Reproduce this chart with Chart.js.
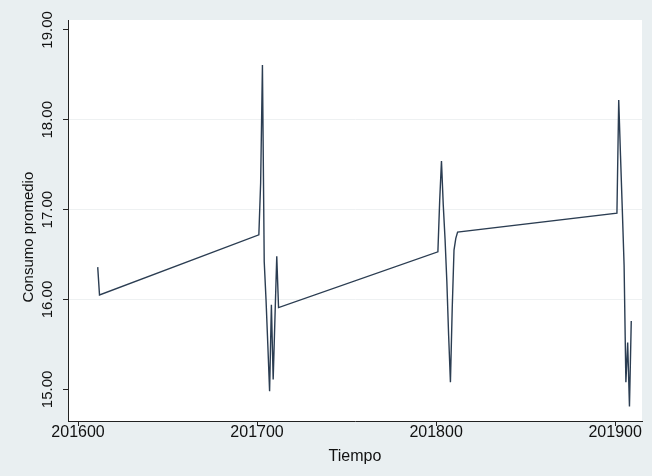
<!DOCTYPE html>
<html>
<head>
<meta charset="utf-8">
<script src="https://cdn.jsdelivr.net/npm/chart.js@4/dist/chart.umd.min.js"></script>
<style>
  html, body { margin: 0; padding: 0; background: #e9eff1; }
  canvas { display: block; }
</style>
</head>
<body>
<canvas id="consumoChart" width="652" height="476"></canvas>
<script>
// --- DATOS ---
const periodos = [
    201611, 201612,
    201701, 201702, 201703, 201704, 201705, 201706, 201707, 201708, 201709, 201710, 201711, 201712,
    201801, 201802, 201803, 201804, 201805, 201806, 201807, 201808, 201809, 201810, 201811, 201812,
    201901, 201902, 201903, 201904, 201905, 201906, 201907, 201908, 201909
];
const consumo = [
    16.36, 16.05,
    16.72, 17.30, 18.61, 16.42, 16.00, 15.50, 14.98, 15.94, 15.11, 15.80, 16.48, 15.91,
    16.53, 17.10, 17.54, 17.05, 16.67, 16.20, 15.60, 15.08, 15.90, 16.55, 16.68, 16.75,
    16.96, 18.22, 17.60, 17.00, 16.38, 15.08, 15.52, 14.81, 15.76
];
const xTicks = [201600, 201700, 201800, 201900];
const yTicks = [15, 16, 17, 18, 19];

const FONT = "'Liberation Sans', Arial, sans-serif";

// fondo gris azulado + área del gráfico blanca (estilo Stata)
const fondoPlugin = {
    id: 'fondo',
    beforeDraw(chart) {
        const { ctx, chartArea } = chart;
        ctx.save();
        ctx.fillStyle = '#e9eff1';
        ctx.fillRect(0, 0, chart.width, chart.height);
        ctx.fillStyle = '#ffffff';
        ctx.fillRect(chartArea.left, chartArea.top, chartArea.right - chartArea.left, chartArea.bottom - chartArea.top);
        ctx.restore();
    }
};

const ctx = document.getElementById('consumoChart').getContext('2d');
new Chart(ctx, {
    type: 'line',
    data: {
        datasets: [{
            data: periodos.map((p, i) => ({ x: p, y: consumo[i] })),
            borderColor: '#2b3d52',
            borderWidth: 1.4,
            pointRadius: 0,
            tension: 0,
            fill: false
        }]
    },
    options: {
        responsive: false,
        animation: false,
        layout: { padding: { top: 20, right: 10, left: 0, bottom: 0 } },
        plugins: {
            legend: { display: false },
            tooltip: { enabled: false }
        },
        scales: {
            x: {
                type: 'linear',
                min: 201594.4,
                max: 201915,
                afterBuildTicks: s => { s.ticks = xTicks.map(v => ({ value: v })); },
                afterFit: s => { s.height = 55; },
                border: { color: '#222', width: 1 },
                grid: { drawOnChartArea: false, tickColor: '#222', tickLength: 5 },
                ticks: {
                    color: '#111',
                    font: { family: FONT, size: 16 },
                    padding: -3,
                    maxRotation: 0,
                    callback: v => String(v)
                },
                title: {
                    display: true,
                    text: 'Tiempo',
                    color: '#111',
                    font: { family: FONT, size: 16 },
                    padding: { top: 0, bottom: 10 }
                }
            },
            y: {
                min: 14.648,
                max: 19.11,
                afterBuildTicks: s => { s.ticks = yTicks.map(v => ({ value: v })); },
                afterFit: s => { s.width = 68; },
                border: { color: '#222', width: 1 },
                grid: {
                    color: c => (c.tick && (c.tick.value === 15 || c.tick.value === 19)) ? 'rgba(0,0,0,0)' : '#eef1f2',
                    tickColor: '#222',
                    tickLength: 5
                },
                ticks: {
                    color: '#111',
                    font: { family: FONT, size: 15 },
                    minRotation: 90,
                    maxRotation: 90,
                    crossAlign: 'center',
                    padding: -3.5,
                    callback: v => v.toFixed(2)
                },
                title: {
                    display: true,
                    // espacios finales: bajan el título como en el original
                    text: 'Consumo promedio        ',
                    color: '#111',
                    font: { family: FONT, size: 15 },
                    padding: { top: 20, bottom: 0 }
                }
            }
        }
    },
    plugins: [fondoPlugin]
});
</script>
</body>
</html>
